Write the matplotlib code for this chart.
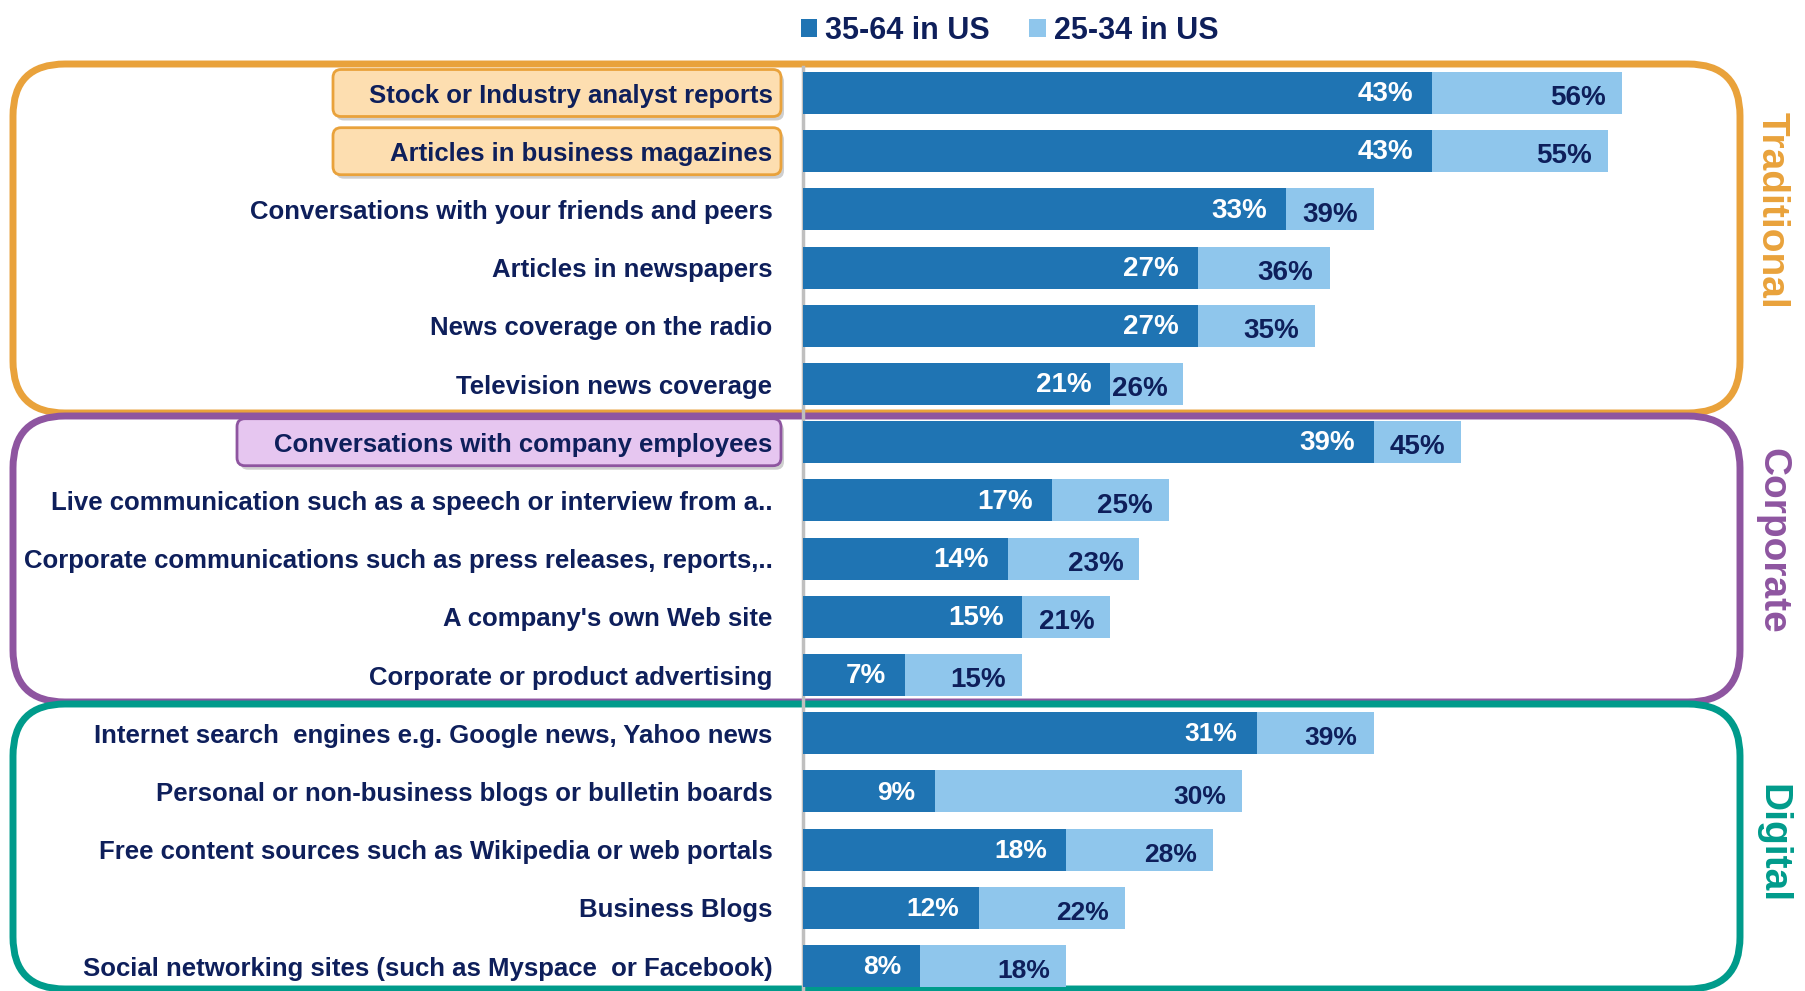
import matplotlib
matplotlib.use("Agg")
import matplotlib.pyplot as plt
from matplotlib.patches import FancyBboxPatch, Patch

categories = [
    "Stock or Industry analyst reports",
    "Articles in business magazines",
    "Conversations with your friends and peers",
    "Articles in newspapers",
    "News coverage on the radio",
    "Television news coverage",
    "Conversations with company employees",
    "Live communication such as a speech or interview from a..",
    "Corporate communications such as press releases, reports,..",
    "A company's own Web site",
    "Corporate or product advertising",
    "Internet search  engines e.g. Google news, Yahoo news",
    "Personal or non-business blogs or bulletin boards",
    "Free content sources such as Wikipedia or web portals",
    "Business Blogs",
    "Social networking sites (such as Myspace  or Facebook)",
]
age_35_64 = [43, 43, 33, 27, 27, 21, 39, 17, 14, 15, 7, 31, 9, 18, 12, 8]
age_25_34 = [56, 55, 39, 36, 35, 26, 45, 25, 23, 21, 15, 39, 30, 28, 22, 18]
series_names = ["35-64 in US", "25-34 in US"]
groups = ["Traditional", "Corporate", "Digital"]
highlight_rows = {0: "Traditional", 1: "Traditional", 6: "Corporate"}

DARK = "#1F74B3"
LIGHT = "#8FC6EC"
NAVY = "#0E1F5B"
GROUP_COLORS = {"Traditional": "#E9A23B", "Corporate": "#8E55A0", "Digital": "#009B8B"}
HL_FILL = {"Traditional": "#FDDEB0", "Corporate": "#E6C6F0"}

REG = "Liberation Sans"

W, H = 1806, 991
fig = plt.figure(figsize=(W / 100, H / 100), dpi=100)

# geometry (pixels)
row0, step = 93.0, 58.2
ax_left, ax_right = 803, 1742
px_per_unit = 14.63
n = len(categories)

# overlay axes in pixel coords for decorations
ov = fig.add_axes([0, 0, 1, 1], zorder=0)
ov.set_xlim(0, W)
ov.set_ylim(H, 0)
ov.axis("off")

ax = fig.add_axes([ax_left / W, 0, (ax_right - ax_left) / W, 1], zorder=1)
ax.patch.set_visible(False)
ax.set_xlim(0, (ax_right - ax_left) / px_per_unit)
ax.set_ylim((H - row0) / step, -row0 / step)

y = list(range(n))
ax.barh(y, age_25_34, height=0.72, color=LIGHT, zorder=2)
ax.barh(y, age_35_64, height=0.72, color=DARK, zorder=3)

for i in range(n):
    fs = 19 if i >= 11 else 20
    ax.text(age_35_64[i] - 1.3, i + 0.02, f"{age_35_64[i]}%", ha="right", va="center",
            color="white", fontsize=fs, fontweight="bold", family=REG, zorder=4)
    ax.text(age_25_34[i] - 1.1, i + 0.09, f"{age_25_34[i]}%", ha="right", va="center",
            color=NAVY, fontsize=fs, fontweight="bold", family=REG, zorder=4)

ax.set_yticks(y)
ax.set_yticklabels(categories, fontsize=18.5, fontweight="bold", color=NAVY, family=REG)
ax.tick_params(axis="y", length=0, pad=22)
ax.set_xticks([])
for s in ["top", "right", "bottom"]:
    ax.spines[s].set_visible(False)
ax.spines["left"].set_color("#BFBFBF")
ax.spines["left"].set_linewidth(2.5)
ax.spines["left"].set_bounds(-0.45, 15.6)

# highlighted label boxes
for r, g in highlight_rows.items():
    yc = row0 + step * r
    x0 = 333 if g == "Traditional" else 237
    x1 = 781
    h = 47
    shadow = FancyBboxPatch((x0 + 3, yc - h / 2 + 4), x1 - x0, h,
                            boxstyle="round,pad=0,rounding_size=8",
                            fc="#B0B0B0", ec="none", alpha=0.6, zorder=1)
    box = FancyBboxPatch((x0, yc - h / 2), x1 - x0, h,
                         boxstyle="round,pad=0,rounding_size=8",
                         fc=HL_FILL[g], ec=GROUP_COLORS[g], lw=2, zorder=2)
    ov.add_patch(shadow)
    ov.add_patch(box)

# group boxes
box_y = {"Traditional": (64, 413), "Corporate": (416, 702), "Digital": (704, 989)}
label_y = {"Traditional": 210, "Corporate": 541, "Digital": 844}
for g in groups:
    y0, y1 = box_y[g]
    p = FancyBboxPatch((13, y0), 1740 - 13, y1 - y0,
                       boxstyle="round,pad=0,rounding_size=52",
                       fc="none", ec=GROUP_COLORS[g], lw=5, zorder=3)
    ov.add_patch(p)
    ov.text(1772, label_y[g], g, rotation=-90, ha="center", va="center",
            color=GROUP_COLORS[g], fontsize=28, fontweight="bold", family=REG)

# legend
handles = [Patch(facecolor=DARK, edgecolor="none"), Patch(facecolor=LIGHT, edgecolor="none")]
leg = fig.legend(handles, series_names, loc="upper center", bbox_to_anchor=(0.559, 1.012),
                 ncol=2, frameon=False, handlelength=0.55, handleheight=0.55,
                 handletextpad=0.25, columnspacing=1.3,
                 prop={"family": REG, "weight": "bold", "size": 22})
for t in leg.get_texts():
    t.set_color(NAVY)

fig.savefig("out.png", dpi=100)
